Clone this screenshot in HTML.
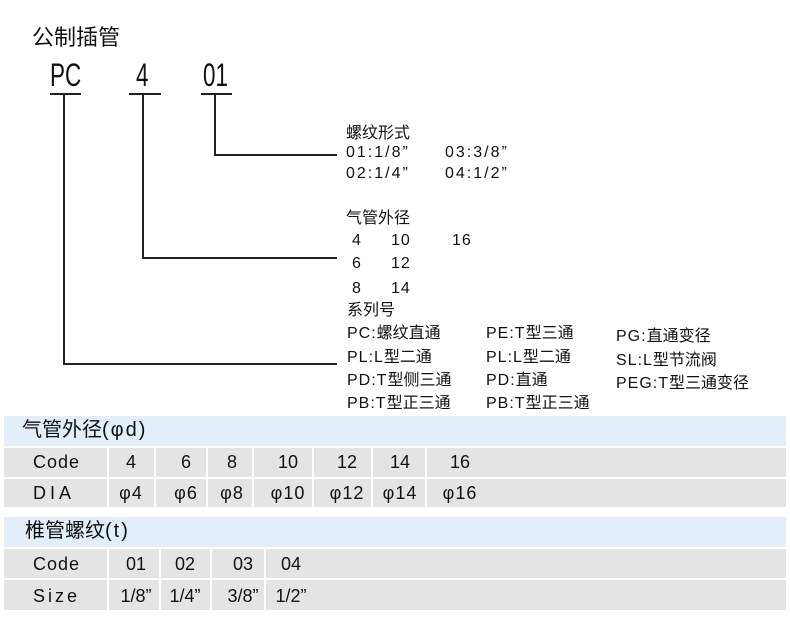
<!DOCTYPE html>
<html><head><meta charset="utf-8"><style>
body{margin:0;width:790px;height:640px;background:#fff;position:relative;overflow:hidden;font-family:"Liberation Sans","Noto Sans CJK SC",sans-serif;color:#111}
.t{position:absolute;white-space:nowrap;line-height:1}
.n{letter-spacing:1px}
.w{letter-spacing:2px}
.big{position:absolute;white-space:nowrap;line-height:1;font-size:32px;transform:scaleX(.7);transform-origin:left center}
.c{position:absolute;white-space:nowrap;line-height:1;transform:translateX(-50%)}
.l{position:absolute;background:#222}
.b{position:absolute;left:4px;width:782px}
.hd{background:#e2eefa}.g{background:#e4e4e4}
.s{position:absolute;width:2px;background:#fff}
</style></head><body>
<div class="t" style="left:32px;top:27px;font-size:22px">公制插管</div>
<div class="big" style="left:50px;top:59px">PC</div>
<div class="big" style="left:136px;top:59px">4</div>
<div class="big" style="left:203px;top:59px">01</div>
<div class="l" style="left:50px;top:93px;width:31px;height:2px"></div>
<div class="l" style="left:129px;top:93px;width:32px;height:2px"></div>
<div class="l" style="left:201px;top:93px;width:31px;height:2px"></div>
<div class="l" style="left:63px;top:94px;width:2px;height:271px"></div>
<div class="l" style="left:63px;top:363px;width:274px;height:2px"></div>
<div class="l" style="left:142px;top:94px;width:2px;height:165px"></div>
<div class="l" style="left:142px;top:257px;width:195px;height:2px"></div>
<div class="l" style="left:214px;top:94px;width:2px;height:62px"></div>
<div class="l" style="left:214px;top:154px;width:123px;height:2px"></div>
<div style="position:absolute;left:0;top:0;font-size:16px">
<div class="t" style="left:346px;top:126px">螺纹形式</div>
<div class="t w" style="left:346px;top:145px">01:1/8”</div><div class="t w" style="left:445px;top:145px">03:3/8”</div>
<div class="t w" style="left:346px;top:166px">02:1/4”</div><div class="t w" style="left:445px;top:166px">04:1/2”</div>
<div class="t" style="left:346px;top:211px">气管外径</div>
<div class="t n" style="left:352px;top:233px">4</div><div class="t n" style="left:391px;top:233px">10</div><div class="t n" style="left:452px;top:233px">16</div>
<div class="t n" style="left:352px;top:256px">6</div><div class="t n" style="left:391px;top:256px">12</div>
<div class="t n" style="left:352px;top:281px">8</div><div class="t n" style="left:391px;top:281px">14</div>
<div class="t" style="left:347px;top:303px">系列号</div>
<div class="t" style="left:347px;top:326px"><span class="n">PC:</span>螺纹直通</div><div class="t" style="left:486px;top:326px"><span class="n">PE:T</span>型三通</div><div class="t" style="left:616px;top:329px"><span class="n">PG:</span>直通变径</div>
<div class="t" style="left:347px;top:350px"><span class="n">PL:L</span>型二通</div><div class="t" style="left:486px;top:350px"><span class="n">PL:L</span>型二通</div><div class="t" style="left:616px;top:353px"><span class="n">SL:L</span>型节流阀</div>
<div class="t" style="left:347px;top:373px"><span class="n">PD:T</span>型侧三通</div><div class="t" style="left:486px;top:373px"><span class="n">PD:</span>直通</div><div class="t" style="left:616px;top:376px"><span class="n">PEG:T</span>型三通变径</div>
<div class="t" style="left:347px;top:396px"><span class="n">PB:T</span>型正三通</div><div class="t" style="left:486px;top:396px"><span class="n">PB:T</span>型正三通</div>
</div>
<div class="b hd" style="top:416px;height:30px"></div>
<div class="b g" style="top:448px;height:29px"></div>
<div class="b g" style="top:479px;height:28px"></div>
<div class="s" style="left:107px;top:448px;height:59px"></div><div class="s" style="left:154px;top:448px;height:59px"></div><div class="s" style="left:206px;top:448px;height:59px"></div><div class="s" style="left:252px;top:448px;height:59px"></div><div class="s" style="left:312px;top:448px;height:59px"></div><div class="s" style="left:371px;top:448px;height:59px"></div><div class="s" style="left:425px;top:448px;height:59px"></div>
<div class="t" style="left:22px;top:420px;font-size:20px">气管外径<span class="w">(φd)</span></div>
<div style="position:absolute;left:0;top:0;font-size:18px">
<div class="t n" style="left:33px;top:453px">Code</div>
<div class="c" style="left:131px;top:453px">4</div><div class="c" style="left:186px;top:453px">6</div><div class="c" style="left:232px;top:453px">8</div><div class="c" style="left:288px;top:453px">10</div><div class="c" style="left:347px;top:453px">12</div><div class="c" style="left:400px;top:453px">14</div><div class="c" style="left:460px;top:453px">16</div>
<div class="t" style="left:33px;top:484px;letter-spacing:4px">DIA</div>
<div class="c n" style="left:131px;top:484px">φ4</div><div class="c n" style="left:186px;top:484px">φ6</div><div class="c n" style="left:232px;top:484px">φ8</div><div class="c n" style="left:288px;top:484px">φ10</div><div class="c n" style="left:347px;top:484px">φ12</div><div class="c n" style="left:400px;top:484px">φ14</div><div class="c n" style="left:460px;top:484px">φ16</div>
</div>
<div class="b hd" style="top:517px;height:30px"></div>
<div class="b g" style="top:549px;height:29px"></div>
<div class="b g" style="top:580px;height:30px"></div>
<div class="s" style="left:107px;top:549px;height:61px"></div><div class="s" style="left:159px;top:549px;height:61px"></div><div class="s" style="left:210px;top:549px;height:61px"></div><div class="s" style="left:264px;top:549px;height:61px"></div>
<div class="t" style="left:25px;top:521px;font-size:20px">椎管螺纹<span class="w">(t)</span></div>
<div style="position:absolute;left:0;top:0;font-size:18px">
<div class="t n" style="left:33px;top:555px">Code</div>
<div class="c" style="left:136px;top:555px">01</div><div class="c" style="left:185px;top:555px">02</div><div class="c" style="left:243px;top:555px">03</div><div class="c" style="left:291px;top:555px">04</div>
<div class="t" style="left:33px;top:587px;letter-spacing:3px">Size</div>
<div class="c" style="left:136px;top:587px">1/8”</div><div class="c" style="left:185px;top:587px">1/4”</div><div class="c" style="left:243px;top:587px">3/8”</div><div class="c" style="left:291px;top:587px">1/2”</div>
</div>
</body></html>
